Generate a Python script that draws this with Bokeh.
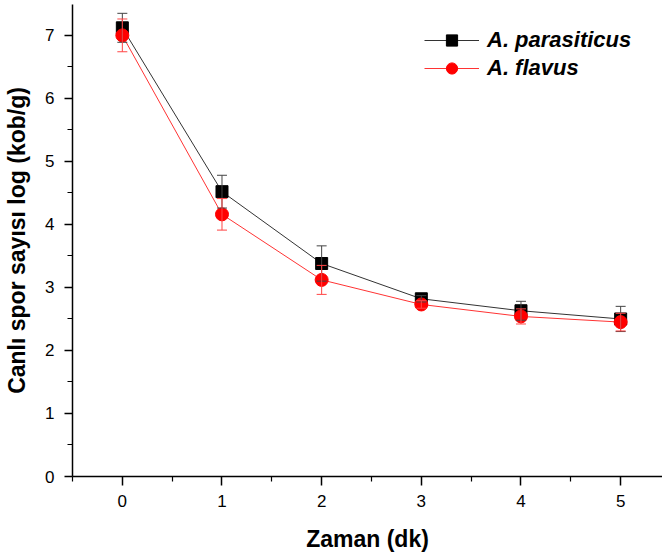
from bokeh.plotting import figure
from bokeh.models import (ColumnDataSource, Whisker, TeeHead, FixedTicker, Range1d,
                          Legend, LegendItem)
from bokeh.embed import file_html
from bokeh.resources import INLINE

time_min = [0, 1, 2, 3, 4, 5]
parasiticus = [7.12, 4.52, 3.38, 2.82, 2.63, 2.50]
parasiticus_err = [0.23, 0.26, 0.28, 0.05, 0.15, 0.20]
flavus = [7.00, 4.16, 3.12, 2.73, 2.54, 2.45]
flavus_err = [0.26, 0.25, 0.23, 0.06, 0.12, 0.14]
x_ticks = [0, 1, 2, 3, 4, 5]
y_ticks = [0, 1, 2, 3, 4, 5, 6, 7]

FONT = "Liberation Sans"

p = figure(width=662, height=558, output_backend="svg", toolbar_location=None,
           x_range=Range1d(-0.5, 5.42), y_range=Range1d(0, 7.49),
           min_border_left=72, min_border_right=0, min_border_top=4,
           min_border_bottom=82)
p.outline_line_color = None
p.xgrid.visible = False
p.ygrid.visible = False
p.background_fill_color = "white"

def make_src(vals, errs):
    return ColumnDataSource(dict(x=time_min, y=vals,
                                 upper=[v + e for v, e in zip(vals, errs)],
                                 lower=[v - e for v, e in zip(vals, errs)]))

src_p = make_src(parasiticus, parasiticus_err)
src_f = make_src(flavus, flavus_err)

lp = p.line("x", "y", source=src_p, line_color="#333333", line_width=1)
sp = p.scatter("x", "y", source=src_p, marker="square", size=12,
               fill_color="black", line_color="black")
wp = Whisker(base="x", upper="upper", lower="lower", source=src_p,
             line_color="#444444", line_width=1, level="glyph",
             upper_head=TeeHead(size=10, line_color="#444444", line_width=1),
             lower_head=TeeHead(size=10, line_color="#444444", line_width=1))
p.add_layout(wp)

lf = p.line("x", "y", source=src_f, line_color="#ff3333", line_width=1)
sf = p.scatter("x", "y", source=src_f, marker="circle", size=13,
               fill_color="#ff0000", line_color="#ff0000")
wf = Whisker(base="x", upper="upper", lower="lower", source=src_f,
             line_color="#ff4444", line_width=1, level="glyph",
             upper_head=TeeHead(size=10, line_color="#ff4444", line_width=1),
             lower_head=TeeHead(size=10, line_color="#ff4444", line_width=1))
p.add_layout(wf)

# axes
p.xaxis.ticker = FixedTicker(ticks=x_ticks,
                             minor_ticks=[-0.5, 0.5, 1.5, 2.5, 3.5, 4.5, 5.5])
p.yaxis.ticker = FixedTicker(ticks=y_ticks,
                             minor_ticks=[0.5, 1.5, 2.5, 3.5, 4.5, 5.5, 6.5])
for ax in (p.xaxis[0], p.yaxis[0]):
    ax.axis_line_color = "black"
    ax.axis_line_width = 1.5
    ax.major_tick_line_color = "black"
    ax.minor_tick_line_color = "black"
    ax.major_tick_line_width = 1.5
    ax.minor_tick_line_width = 1.2
    ax.major_tick_in = 0
    ax.minor_tick_in = 0
    ax.major_label_text_font = FONT
    ax.major_label_text_font_size = "17px"
    ax.major_label_text_color = "black"
    ax.axis_label_text_font = FONT
    ax.axis_label_text_font_size = "23px"
    ax.axis_label_text_font_style = "bold"
    ax.axis_label_text_color = "black"

p.xaxis.major_tick_out = 9
p.xaxis.minor_tick_out = 5
p.yaxis.major_tick_out = 8
p.yaxis.minor_tick_out = 5
p.xaxis.major_label_standoff = 9
p.yaxis.major_label_standoff = 10
p.xaxis.axis_label = "Zaman (dk)"
p.yaxis.axis_label = "Canlı spor sayısı log (kob/g)"
p.xaxis.axis_label_standoff = 16
p.yaxis.axis_label_standoff = 12

legend = Legend(items=[
    LegendItem(label="A. parasiticus", renderers=[lp, sp]),
    LegendItem(label="A. flavus", renderers=[lf, sf]),
], location=(352, 394))
legend.border_line_color = None
legend.background_fill_alpha = 0
legend.padding = 0
legend.margin = 0
legend.spacing = 0
legend.glyph_width = 55
legend.glyph_height = 28
legend.label_height = 28
legend.label_standoff = 8
legend.label_text_font = FONT
legend.label_text_font_size = "22px"
legend.label_text_font_style = "bold italic"
legend.label_text_color = "black"
p.add_layout(legend)

open("out.html", "w").write(file_html(p, INLINE))
